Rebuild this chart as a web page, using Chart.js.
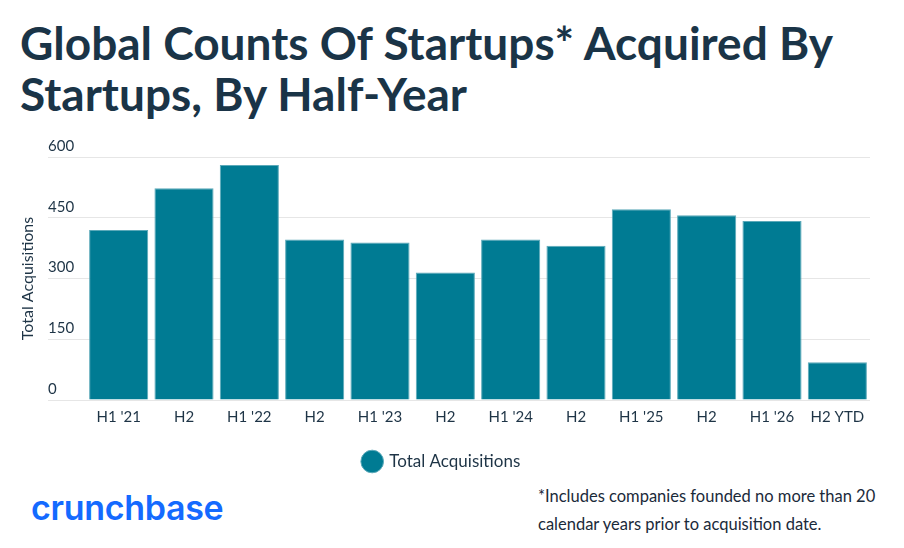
<!DOCTYPE html>
<html><head><meta charset="utf-8">
<script src="https://cdn.jsdelivr.net/npm/chart.js@4.4.1/dist/chart.umd.min.js"></script>
<style>
html,body{margin:0;padding:0;background:#fff;width:904px;height:548px;overflow:hidden;}
#title{position:absolute;left:20px;top:17px;font-family:Lato,sans-serif;font-weight:700;font-size:46px;line-height:51px;color:#1a3447;letter-spacing:0px;}
#wrap{position:absolute;left:0;top:130px;width:904px;height:350px;}
#logo{position:absolute;left:31px;top:487px;font-family:Inter,sans-serif;font-weight:600;font-size:34px;color:#146aff;letter-spacing:-0.3px;}
#note{position:absolute;left:538px;top:482px;font-family:Lato,sans-serif;font-size:16.5px;line-height:28px;color:#1a2a3a;}
</style></head>
<body>
<div id="title">Global Counts Of Startups* Acquired By<br>Startups, By Half-Year</div>
<div id="wrap"><canvas id="c"></canvas></div>
<div id="logo">crunchbase</div>
<div id="note">*Includes companies founded no more than 20<br>calendar years prior to acquisition date.</div>
<script>
const categories = ["H1 '21","H2","H1 '22","H2","H1 '23","H2","H1 '24","H2","H1 '25","H2","H1 '26","H2 YTD"];
const totalAcquisitions = [420,523,580,396,389,315,396,381,471,456,442,93];
const yTicks = [0,150,300,450,600];
const seriesName = "Total Acquisitions";

const textColor = '#1e3446';
new Chart(document.getElementById('c'), {
  type: 'bar',
  data: {
    labels: categories,
    datasets: [{
      label: seriesName,
      data: totalAcquisitions,
      backgroundColor: '#007b93',
      borderColor: '#5ba9b9',
      borderWidth: 1,
      barPercentage: 0.905,
      categoryPercentage: 1.0
    }]
  },
  options: {
    responsive: true,
    maintainAspectRatio: false,
    animation: false,
    layout: {padding: {left: 14, right: 34, top: 27, bottom: 0}},
    plugins: {
      legend: {
        position: 'bottom',
        labels: {usePointStyle: true, pointStyle: 'circle', boxWidth: 18, boxHeight: 16, color: textColor,
          font: {family: 'Lato', size: 17}, padding: 14}
      },
      tooltip: {enabled: false}
    },
    scales: {
      x: {
        grid: {display: false},
        border: {display: false},
        afterFit: (s) => { s.height = s.height + 13; },
        ticks: {color: textColor, font: {family: 'Lato', size: 15}, padding: 0, maxRotation: 0}
      },
      y: {
        min: 0, max: 600,
        afterBuildTicks: (s) => { s.ticks = yTicks.map(v => ({value: v})); },
        afterFit: (s) => { s.width = 72; },
        border: {display: false},
        grid: {color: '#e6e6e6', lineWidth: 1, drawTicks: true, tickLength: 38, tickColor: '#e6e6e6'},
        ticks: {mirror: true, padding: -38, labelOffset: -11, color: textColor, font: {family: 'Lato', size: 15}},
        title: {display: true, text: 'Total Acquisitions', color: textColor, font: {family: 'Lato', size: 16}, padding: {top: 4, bottom: 4}}
      }
    }
  }
});
</script>
</body></html>
